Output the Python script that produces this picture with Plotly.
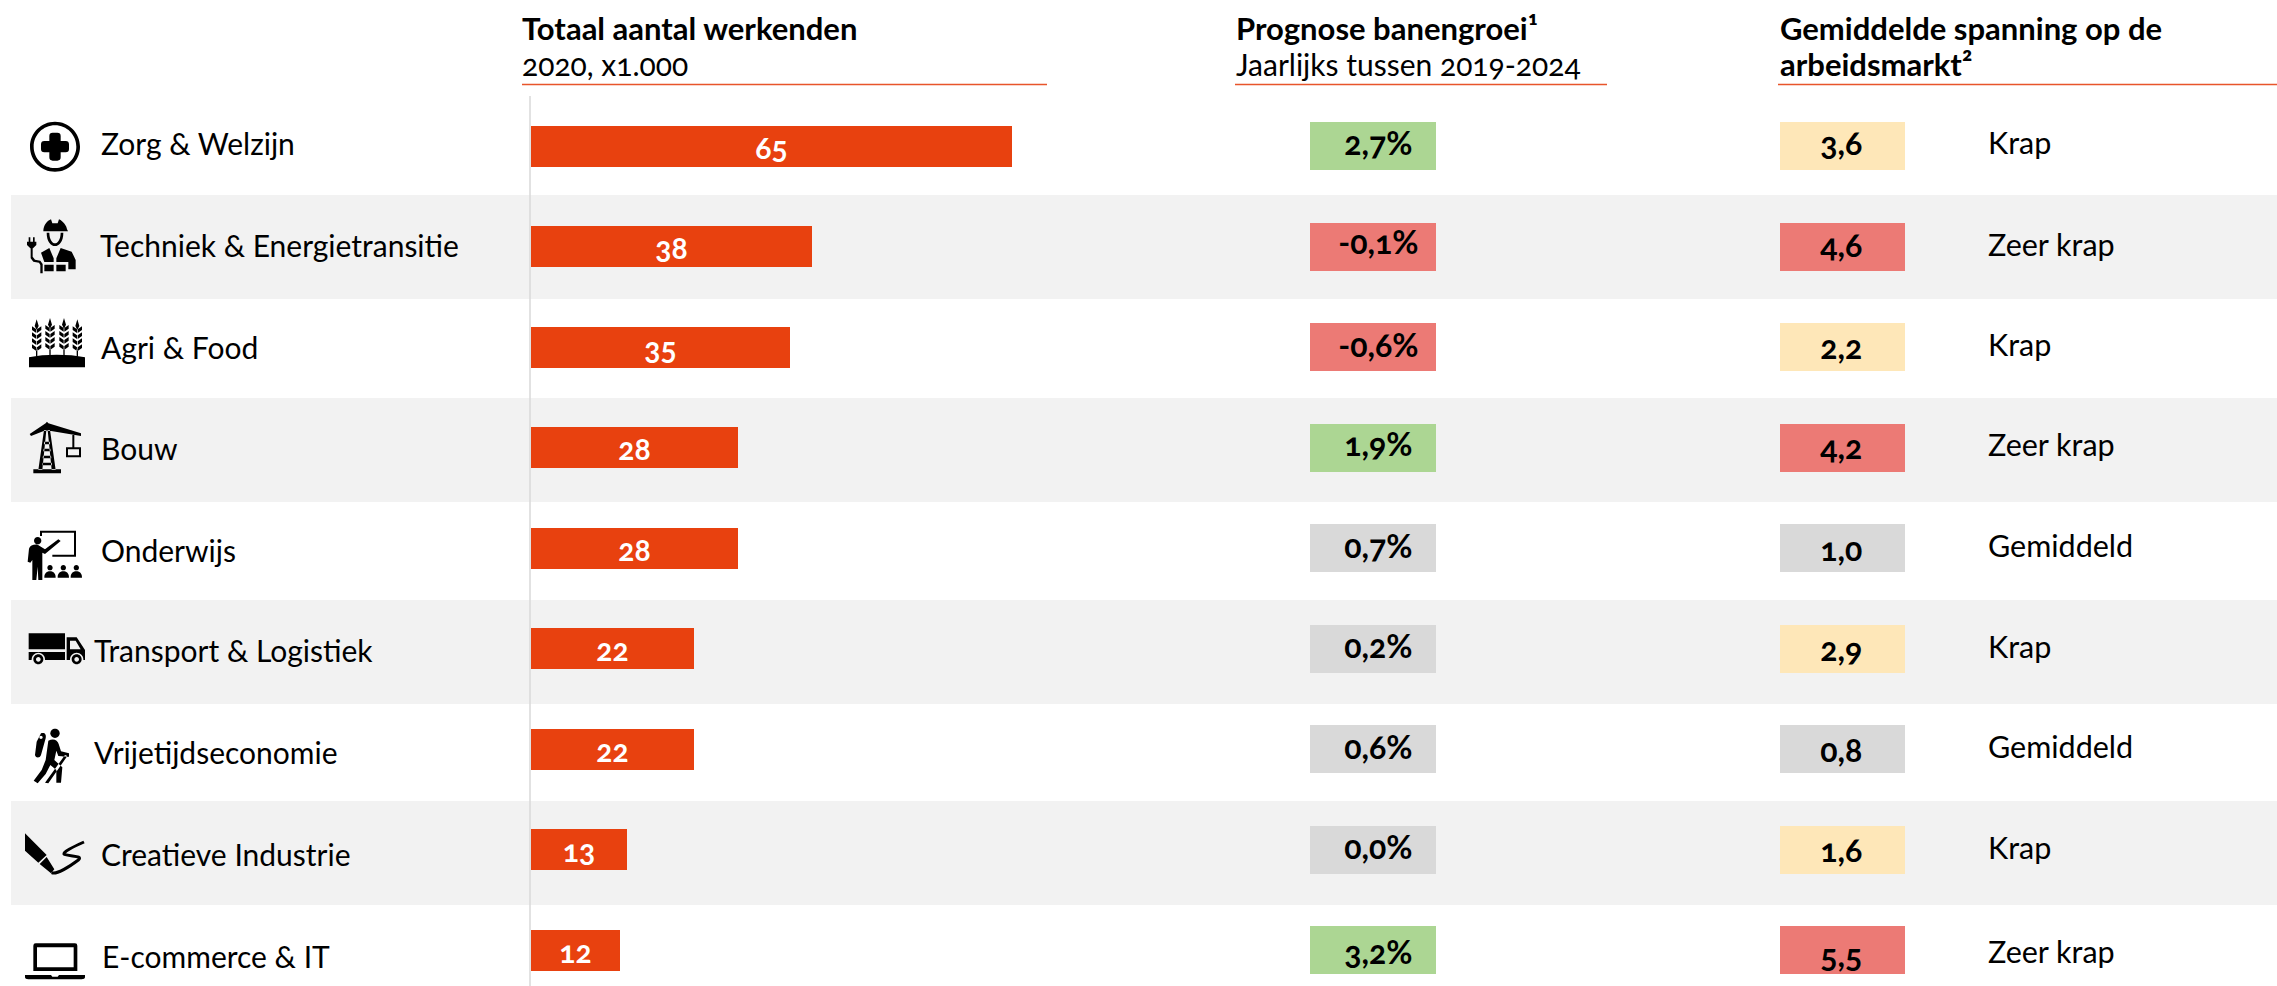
import re
import plotly.graph_objects as go

# ---------- data ----------
sectors = ["Zorg & Welzijn", "Techniek & Energietransitie", "Agri & Food", "Bouw", "Onderwijs",
           "Transport & Logistiek", "Vrijetijdseconomie", "Creatieve Industrie", "E-commerce & IT"]
werkenden = [65, 38, 35, 28, 28, 22, 22, 13, 12]
banengroei = [2.7, -0.1, -0.6, 1.9, 0.7, 0.2, 0.6, 0.0, 3.2]
spanning = [3.6, 4.6, 2.2, 4.2, 1.0, 2.9, 0.8, 1.6, 5.5]
status = ["Krap", "Zeer krap", "Krap", "Zeer krap", "Gemiddeld", "Krap", "Gemiddeld", "Krap", "Zeer krap"]

# ---------- style ----------
W, H = 2277, 986
FONT = "Lato"
ORANGE, INK = "#E8410F", "#000000"
GREEN, RED, YELLOW, GREY, BAND = "#ACD693", "#EC7A75", "#FEE7B8", "#D9D9D9", "#F2F2F2"
STATUS_COL = {"Krap": YELLOW, "Zeer krap": RED, "Gemiddeld": GREY}
LABEL_X = [99, 98, 99, 99, 99, 92, 92, 99, 100]
LABEL_SHIFT = [3, 1.5, 0, 0, -1.5, -1.5, -3, -4, -6]
STATUS_SHIFT = [4, 3, 3, 4, 3, 3, 3, 3, -1]
GROW_SHIFT = [4, 5, 3, 4, 3, 3, 3, 3, -1]
SPAN_SHIFT = [4, 2, 1, 1, 0, 0, 0, 0, -4]


def px(x):
    return x / W


def py(y):
    return 1 - y / H


def nl(v):
    return f"{v:.1f}".replace(".", ",")


def grow_col(v):
    return RED if v < 0 else GREEN if v > 1 else GREY


shapes = []


def rect_px(x0, y0, x1, y1, col):
    shapes.append(dict(type="rect", xref="paper", yref="paper", x0=px(x0), x1=px(x1), y0=py(y0), y1=py(y1),
                       fillcolor=col, line_width=0, layer="below"))


for top, bot in [(195, 299), (398, 502), (600, 704), (801, 905)]:
    rect_px(11, top, W, bot, BAND)
shapes.append(dict(type="line", xref="paper", yref="paper", x0=px(530), x1=px(530), y0=py(96), y1=0,
                   line=dict(color="#D9D9D9", width=1.5), layer="below"))
for a, b in [(522, 1047), (1235, 1607), (1778, W)]:
    shapes.append(dict(type="line", xref="paper", yref="paper", x0=px(a), x1=px(b), y0=py(84.5), y1=py(84.5),
                       line=dict(color="#E8552B", width=1.5)))


# ---------- pictograms (decorative; drawn in crop units of 1/3 pixel) ----------
def icon(d, ox, oy, fill=INK, stroke=None, sw=0):
    def conv(m):
        xs = float(m.group(1)) / 3 + ox
        ys = float(m.group(2)) / 3 + oy
        return f"{px(xs):.6f} {py(ys):.6f}"

    path = re.sub(r"(-?[\d.]+)[ ,]+(-?[\d.]+)", conv, d)
    shapes.append(dict(type="path", xref="paper", yref="paper", path=path, fillcolor=fill, fillrule="evenodd",
                       line=dict(width=sw, color=stroke or "rgba(0,0,0,0)")))


def circ(cx, cy, r):
    k = 0.5523 * r
    return (f"M{cx - r} {cy} C{cx - r} {cy - k} {cx - k} {cy - r} {cx} {cy - r} "
            f"C{cx + k} {cy - r} {cx + r} {cy - k} {cx + r} {cy} "
            f"C{cx + r} {cy + k} {cx + k} {cy + r} {cx} {cy + r} "
            f"C{cx - k} {cy + r} {cx - r} {cy + k} {cx - r} {cy} Z ")


# health
icon(circ(120, 110, 75) + circ(120, 110, 64), 15, 110)
icon("M103 78 Q103 68 113 68 L127 68 Q137 68 137 78 L137 93 L152 93 Q162 93 162 103 L162 117 Q162 127 152 127 "
     "L137 127 L137 142 Q137 152 127 152 L113 152 Q103 152 103 142 L103 127 L88 127 Q78 127 78 117 L78 103 "
     "Q78 93 88 93 L103 93 Z", 15, 110)
# engineer
icon("M85 364 C85 345 97 332 108 328 L112 340 L128 340 L132 328 C145 334 155 348 156 358 L159 364 Z", 15, 110)
icon("M95 368 C95 395 108 408 120 408 C132 408 145 395 145 368 L137 368 C137 388 128 400 120 400 "
     "C112 400 103 388 103 368 Z", 15, 110)
icon("M78 428 L103 414 L116 445 L116 456 L88 456 Z M88 464 L116 464 L116 484 L88 484 Z "
     "M124 445 L137 414 L170 425 L182 450 L182 478 L160 478 L160 456 L124 456 Z M124 464 L152 464 L152 484 L124 484 Z",
     15, 110)
icon("M41 382 L46 382 L46 395 L41 395 Z M54 382 L59 382 L59 395 L54 395 Z M36 395 L64 395 L64 405 L54 415 L46 415 L36 405 Z "
     "M47 415 L53 415 L53 440 L60 449 L76 452 L83 462 L83 490 L76 490 L76 465 L72 458 L55 455 L47 445 Z", 15, 110)
# wheat
icon("M42 172 L42 142 C90 132 160 132 210 142 L210 172 Z", 15, 310)
for cx, t in [(65, 28), (105, 24), (147, 24), (187, 28)]:
    d = f"M{cx - 2} {t + 88} L{cx + 2} {t + 88} L{cx + 2} 140 L{cx - 2} 140 Z M{cx} {t} L{cx + 6} {t + 20} L{cx + 1} {t + 30} L{cx - 1} {t + 30} L{cx - 6} {t + 20} Z "
    for j in range(4):
        yy = t + 28 + j * 18
        d += (f"M{cx - 1} {yy + 13} L{cx - 14} {yy + 4} L{cx - 14} {yy - 7} L{cx - 1} {yy + 2} Z "
              f"M{cx + 1} {yy + 13} L{cx + 14} {yy + 4} L{cx + 14} {yy - 7} L{cx + 1} {yy + 2} Z ")
    icon(d, 15, 310)
# crane
icon("M55 478 L138 478 L138 490 L55 490 Z M44 372 L92 340 L96 335 L100 340 L198 370 L198 378 L104 362 L88 362 L48 378 Z "
     "M87 360 L94 360 L82 480 L70 480 Z M98 360 L105 360 L122 480 L110 480 Z "
     "M88 395 L104 395 L105 403 L87 403 Z M86 416 L106 416 L107 424 L85 424 Z M84 437 L108 437 L109 445 L83 445 Z "
     "M83 458 L110 458 L111 466 L82 466 Z M172 375 L178 375 L178 412 L172 412 Z "
     "M153 412 L198 412 L198 442 L153 442 Z M159 418 L159 436 L192 436 L192 418 Z", 15, 310)
# teacher
icon("M75 62 L183 62 L183 140 L112 140 L112 134 L177 134 L177 68 L81 68 L81 78 L75 78 Z", 15, 510)
icon(circ(68, 92, 11), 15, 510)
icon("M42 116 C45 106 55 103 68 104 L90 118 L130 88 L137 93 L90 132 L82 128 L82 210 L70 210 L68 170 L64 210 "
     "L52 210 L52 150 L46 158 L38 155 Z", 15, 510)
for cx in (105, 145, 184):
    icon(circ(cx, 173, 8) + f"M{cx - 17} 203 C{cx - 17} 188 {cx - 8} 184 {cx} 184 C{cx + 8} 184 {cx + 17} 188 {cx + 17} 203 Z",
         15, 510)
# truck
icon("M41 370 L150 370 L150 418 L41 418 Z M41 426 L150 426 L150 450 L41 450 Z "
     "M155 382 L185 382 L210 420 L210 450 L155 450 Z M165 392 L165 418 L197 418 L182 392 Z", 15, 510)
for cx in (70, 185):
    icon(circ(cx, 448, 20), 15, 510, fill=BAND)
    icon(circ(cx, 448, 15) + circ(cx, 448, 7), 15, 510)
# hiker
icon(circ(120, 70, 14), 15, 710)
icon("M78 70 C88 66 95 72 92 85 L78 135 C75 145 62 145 60 135 L65 95 Z " + circ(78, 82, 5), 15, 710)
icon("M100 92 C115 84 128 90 131 102 L138 124 L162 130 L162 140 L130 138 L124 122 L118 150 L142 172 L138 218 L124 218 "
     "L124 180 L106 165 L92 192 L68 220 L56 212 L80 180 L92 150 Z M150 135 L157 138 L100 220 L90 218 Z", 15, 710)
# pen
icon("M30 370 L95 435 L70 458 L30 422 Z M95 441 L118 478 L108 490 L74 462 Z", 15, 710)
icon("M110 488 C125 495 170 465 190 450 C205 437 170 440 148 433 C140 428 175 410 207 396", 15, 710,
     fill="rgba(0,0,0,0)", stroke=INK, sw=3)
# laptop
icon("M62 700 L180 700 Q187 700 187 707 L187 783 L55 783 L55 707 Q55 700 62 700 Z M66 712 L66 772 L176 772 L176 712 Z", 15, 710)
icon("M30 795 L108 795 L112 800 L128 800 L132 795 L210 795 L210 802 C210 806 206 808 200 808 L40 808 C34 808 30 806 30 802 Z",
     15, 710)

# ---------- traces ----------
Y_RANGE = [8.356, -1.456]
fig = go.Figure()
fig.add_trace(go.Bar(y=sectors, x=werkenden, orientation="h", width=0.405, marker=dict(color=ORANGE, line_width=0),
                     text=[str(v) for v in werkenden], textposition="inside", insidetextanchor="middle",
                     constraintext="none", textangle=0,
                     textfont=dict(family=FONT, size=30, color="white", weight="bold"), xaxis="x", yaxis="y"))
fig.add_trace(go.Bar(y=sectors, x=[1] * len(sectors), orientation="h", width=0.478,
                     marker=dict(color=[grow_col(v) for v in banengroei], line_width=0), xaxis="x2", yaxis="y"))
fig.add_trace(go.Bar(y=sectors, x=[1] * len(sectors), orientation="h", width=0.478,
                     marker=dict(color=[STATUS_COL[s] for s in status], line_width=0), xaxis="x3", yaxis="y"))

# ---------- text ----------
ann = []
for s, x, dy in zip(sectors, LABEL_X, LABEL_SHIFT):
    ann.append(dict(text=s, xref="paper", yref="y", x=px(x), y=s, xanchor="left", yanchor="middle", align="left",
                    showarrow=False, yshift=dy, font=dict(family=FONT, size=30, color=INK)))
for s, lab, dy in zip(sectors, status, STATUS_SHIFT):
    ann.append(dict(text=lab, xref="paper", yref="y", x=px(1986), y=s, xanchor="left", yanchor="middle", align="left",
                    showarrow=False, yshift=dy, font=dict(family=FONT, size=30.5, color=INK)))
for s, v, dy in zip(sectors, banengroei, GROW_SHIFT):
    ann.append(dict(text=nl(v) + "%", xref="x2", yref="y", x=0.5, y=s, xshift=5, yshift=dy, showarrow=False,
                    font=dict(family=FONT, size=32, color=INK, weight="bold")))
for s, v, dy in zip(sectors, spanning, SPAN_SHIFT):
    ann.append(dict(text=nl(v), xref="x3", yref="y", x=0.5, y=s, xshift=-1, yshift=dy, showarrow=False,
                    font=dict(family=FONT, size=32, color=INK, weight="bold")))
headers = [("Totaal aantal werkenden", 520, 28, True, 31), ("2020, x1.000", 520, 64, False, 30),
           ("Prognose banengroei¹", 1234, 28, True, 31), ("Jaarlijks tussen 2019-2024", 1234, 64, False, 30),
           ("Gemiddelde spanning op de", 1778, 28, True, 31), ("arbeidsmarkt²", 1778, 64, True, 31)]
for t, x, y, b, size in headers:
    ann.append(dict(text=t, xref="paper", yref="paper", x=px(x), y=py(y), xanchor="left", yanchor="middle", align="left",
                    showarrow=False, font=dict(family=FONT, size=size, color=INK, weight="bold" if b else "normal")))

hidden = dict(showgrid=False, zeroline=False, showticklabels=False, ticks="", showline=False, fixedrange=True)
fig.update_layout(
    width=W, height=H, margin=dict(l=0, r=0, t=0, b=0), autosize=False, showlegend=False,
    paper_bgcolor="white", plot_bgcolor="rgba(0,0,0,0)", shapes=shapes, annotations=ann, bargap=0, barmode="overlay",
    xaxis=dict(domain=[px(531), px(1047)], range=[0, 516 / 7.4], **hidden),
    xaxis2=dict(domain=[px(1310), px(1436)], range=[0, 1], anchor="y", **hidden),
    xaxis3=dict(domain=[px(1780), px(1905)], range=[0, 1], anchor="y", **hidden),
    yaxis=dict(domain=[0, 1], type="category", categoryorder="array", categoryarray=sectors, range=Y_RANGE, **hidden),
)
fig.write_html("out.html", config={"displayModeBar": False}, post_script=
               "document.body.style.margin='0';document.documentElement.style.overflow='hidden';"
               "var st=document.createElement('style');st.textContent='text{font-variant-numeric:oldstyle-nums;font-feature-settings:\"onum\"}';document.head.appendChild(st);")
